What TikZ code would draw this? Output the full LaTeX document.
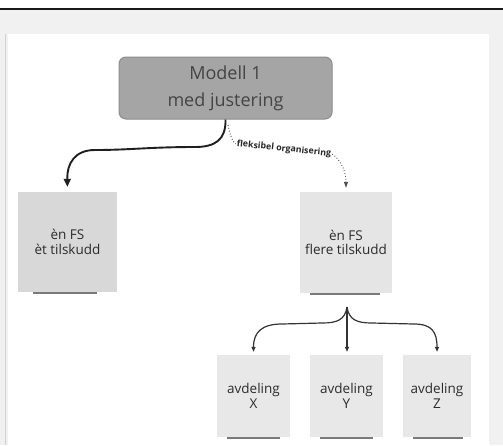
\documentclass[tikz,border=0pt]{standalone}
\usepackage{fontspec}
\setmainfont{Open Sans}
\usetikzlibrary{arrows.meta}
\definecolor{mainfill}{HTML}{A5A5A5}
\definecolor{mainborder}{HTML}{8C8C8C}
\definecolor{maintext}{HTML}{444444}
\definecolor{leftfill}{HTML}{D8D8D8}
\definecolor{rightfill}{HTML}{E5E5E5}
\definecolor{subfill}{HTML}{E8E8E8}
\definecolor{boxtext}{HTML}{2C2C2C}
\definecolor{outerbg}{HTML}{F1F1F1}
\definecolor{shadowc}{HTML}{7A7A7A}
\begin{document}
\begin{tikzpicture}[x=1pt,y=-1pt,
  mainbox/.style={rectangle, rounded corners=7pt, fill=mainfill, draw=mainborder, line width=1pt,
    minimum width=213pt, minimum height=62pt, align=center, text=maintext,
    font=\fontsize{18}{27}\selectfont, inner sep=0pt},
  plainbox/.style={rectangle, draw=none, align=center, text=boxtext,
    font=\fontsize{13.5}{14.5}\selectfont, inner sep=0pt},
  shadowline/.style={draw=shadowc, line width=1.6pt},
  thickarrow/.style={draw=black!88, line width=1.9pt, -{Triangle[length=8pt,width=7pt]}},
  dotarrow/.style={draw=black!70, line width=0.9pt, dotted, -{Triangle[length=6pt,width=4pt]}},
  thinarrow/.style={draw=black!80, line width=1.2pt, -{Triangle[length=5pt,width=4pt]}},
  lbl/.style={font=\bfseries\fontsize{8.8}{10}\selectfont, text=black!85, inner sep=1pt}]
\useasboundingbox (0,0) rectangle (503,445);
% background
\fill[white] (0,0) rectangle (503,445);
\fill[outerbg] (0,10) rectangle (503,445);
\fill[white] (8,34) rectangle (489,445);
\draw[black!90, line width=2.5pt] (0,9) -- (503,9);
\draw[black!18, line width=0.8pt] (5,34) -- (5,445);

% nodes
\node[mainbox] (main) at (225.5,88) {Modell 1\\med justering};
\node[plainbox, fill=leftfill, minimum width=99pt, minimum height=100pt] (left) at (67.5,242) {èn FS\\èt tilskudd};
\node[plainbox, fill=rightfill, minimum width=92pt, minimum height=101pt] (right) at (346,242.5) {èn FS\\flere tilskudd};
\node[plainbox, fill=subfill, minimum width=73pt, minimum height=82pt] (X) at (253.5,396) {avdeling\\X};
\node[plainbox, fill=subfill, minimum width=73pt, minimum height=82pt] (Y) at (346.5,396) {avdeling\\Y};
\node[plainbox, fill=subfill, minimum width=68pt, minimum height=82pt] (Z) at (437,396) {avdeling\\Z};

% bottom shadow lines
\draw[shadowline] ([xshift=15pt,yshift=-1pt]left.south west) -- ([xshift=-20pt,yshift=-1pt]left.south east);
\draw[shadowline] ([xshift=10pt,yshift=-1pt]right.south west) -- ([xshift=-12pt,yshift=-1pt]right.south east);
\draw[shadowline] ([xshift=10pt,yshift=-1pt]X.south west) -- ([xshift=-10pt,yshift=-1pt]X.south east);
\draw[shadowline] ([xshift=10pt,yshift=-1pt]Y.south west) -- ([xshift=-10pt,yshift=-1pt]Y.south east);
\draw[shadowline] ([xshift=10pt,yshift=-1pt]Z.south west) -- ([xshift=-8pt,yshift=-1pt]Z.south east);

% main -> left
\draw[thickarrow, shorten >=5pt] (main.south) .. controls (226,140) and (215,147) .. (195,147)
  .. controls (150,147) and (130,150) .. (95,150)
  .. controls (75,150) and (67,163) .. (left.north);

% main -> right (dotted, labelled)
\coordinate (d0) at (228,125);
\node[lbl, rotate=-6] (flex) at (284,149) {fleksibel organisering};
\draw[draw=black!70, line width=0.9pt, dotted] (d0) .. controls (230,134) and (231,140) .. (flex.west);
\draw[dotarrow, shorten >=4pt] (flex.east) .. controls (338,158) and (346,168) .. (right.north);

% right -> departments
\coordinate (fork) at (347,307);
\draw[thinarrow, shorten >=3pt] (fork) -- (Y.north -| fork);
\draw[thinarrow, shorten >=3pt] (fork) .. controls (345,320) and (337,323) .. (322,323)
  -- (282,324) .. controls (262,324) and (253.5,332) .. (X.north);
\draw[thinarrow, shorten >=3pt] (fork) .. controls (349,320) and (357,323) .. (372,323)
  -- (414,324) .. controls (432,324) and (437,332) .. (Z.north);
\end{tikzpicture}
\end{document}
